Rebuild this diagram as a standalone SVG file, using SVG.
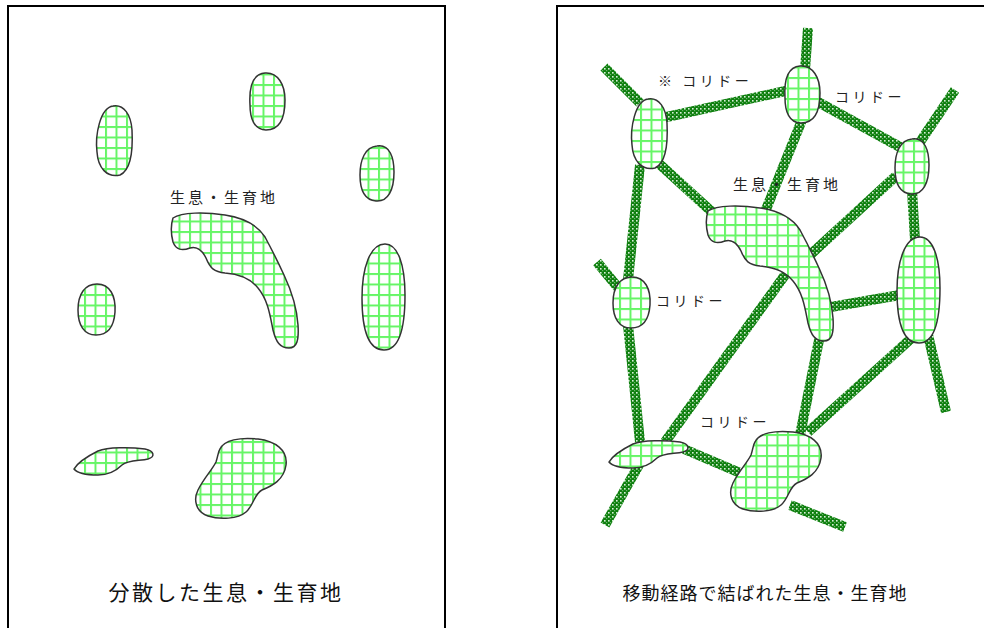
<svg xmlns="http://www.w3.org/2000/svg" xmlns:xlink="http://www.w3.org/1999/xlink" width="984" height="628" viewBox="0 0 984 628">
  <style>
    .frame { fill: none; stroke: #000; stroke-width: 2; }
    .patch { fill: url(#grid); stroke: #333; stroke-width: 1.5; }
    .corr { stroke: url(#corridor); stroke-width: 10; fill: none; }
    .lbl { font-family: "Noto Sans CJK JP", "Noto Sans", sans-serif; font-size: 14px; fill: #222; letter-spacing: 3.5px; }
    .cap { font-family: "Noto Sans CJK JP", "Noto Sans", sans-serif; fill: #111; text-anchor: middle; }
  </style>
  <defs>
    <!-- habitat fill: white with light green grid -->
    <pattern id="grid" width="10.5" height="10.5" patternUnits="userSpaceOnUse">
      <rect width="10.5" height="10.5" fill="#fff"/>
      <rect width="2" height="10.5" fill="#66f566"/>
      <rect width="10.5" height="2" fill="#66f566"/>
    </pattern>
    <!-- corridor band: dark green with light specks -->
    <pattern id="corridor" width="4" height="4" patternUnits="userSpaceOnUse">
      <rect width="4" height="4" fill="#0f7f0f"/>
      <rect x="0" y="0" width="1.6" height="1.6" fill="#d8f0d8"/>
      <rect x="2" y="2" width="1.2" height="1.2" fill="#6ab86a"/>
    </pattern>
    <path id="p1" d="M 113,106 C 124,104 131,115 132,130 C 133,150 131,170 120,175 C 107,178 98,168 97,152 C 95,135 100,108 113,106 Z"/>
    <path id="p2" d="M 265,73 C 278,72 285,85 285,100 C 285,118 280,130 266,130 C 254,130 250,118 250,105 C 249,88 252,74 265,73 Z"/>
    <path id="p3" d="M 377,146 C 390,144 394,158 394,172 C 394,190 388,202 376,201 C 364,200 360,190 360,175 C 360,160 365,147 377,146 Z"/>
    <path id="p4" d="M 173,218 C 182,212 205,212 225,215 C 245,218 258,226 265,237 C 272,250 278,262 284,275 C 292,292 297,310 298,325 C 299,340 297,348 289,348 C 280,348 276,342 273,330 C 270,315 268,300 258,288 C 250,278 240,274 225,273 C 214,272 210,268 206,258 C 202,250 196,246 190,248 C 182,251 176,250 173,242 C 171,234 171,224 173,218 Z"/>
    <path id="p5" d="M 385,244 C 398,244 405,265 405,295 C 405,325 400,350 384,350 C 368,350 362,328 362,298 C 362,268 370,244 385,244 Z"/>
    <path id="p6" d="M 97,284 C 110,284 116,296 115,312 C 114,326 108,335 96,335 C 84,335 78,325 78,310 C 78,294 85,284 97,284 Z"/>
    <path id="p7" d="M 74,469 C 78,462 88,456 98,451 C 108,447 130,447 145,449 C 155,451 155,457 148,459 C 140,461 128,460 122,465 C 116,471 108,475 98,475 C 88,475 78,474 74,469 Z"/>
    <path id="p8" d="M 220,449 C 224,440 240,437 258,439 C 275,441 288,450 286,465 C 284,480 272,486 262,490 C 254,494 254,505 246,512 C 238,519 220,520 208,516 C 196,512 193,500 198,490 C 204,478 212,470 216,462 C 218,456 218,452 220,449 Z"/>
  </defs>

  <rect width="984" height="628" fill="#fff"/>

  <!-- panel frames (open at the bottom) -->
  <path class="frame" d="M 8,630 V 6 H 445 V 630"/>
  <path class="frame" d="M 557,630 V 6 H 986"/>

  <!-- left panel: scattered habitats -->
  <g id="left-habitats">
    <g id="l-patch1"><use xlink:href="#p1" class="patch"/></g>
    <g id="l-patch2"><use xlink:href="#p2" class="patch"/></g>
    <g id="l-patch3"><use xlink:href="#p3" class="patch"/></g>
    <g id="l-patch4"><use xlink:href="#p4" class="patch"/></g>
    <g id="l-patch5"><use xlink:href="#p5" class="patch"/></g>
    <g id="l-patch6"><use xlink:href="#p6" class="patch"/></g>
    <g id="l-patch7"><use xlink:href="#p7" class="patch"/></g>
    <g id="l-patch8"><use xlink:href="#p8" class="patch"/></g>
  </g>
  <text class="lbl" x="170" y="203" style="font-size:15px;letter-spacing:3px">生息・生育地</text>
  <text class="cap" x="226" y="600" style="font-size:21px;letter-spacing:2.5px">分散した生息・生育地</text>

  <!-- right panel: corridors linking habitats -->
  <g id="corridors">
    <line class="corr" x1="604" y1="67" x2="640" y2="103"/>
    <line class="corr" x1="662" y1="118" x2="790" y2="90"/>
    <line class="corr" x1="808" y1="28" x2="805" y2="70"/>
    <line class="corr" x1="818" y1="102" x2="900" y2="147"/>
    <line class="corr" x1="918" y1="145" x2="955" y2="90"/>
    <line class="corr" x1="802" y1="120" x2="765" y2="212"/>
    <line class="corr" x1="655" y1="160" x2="712" y2="212"/>
    <line class="corr" x1="640" y1="165" x2="628" y2="280"/>
    <line class="corr" x1="597" y1="262" x2="620" y2="290"/>
    <line class="corr" x1="628" y1="325" x2="640" y2="442"/>
    <line class="corr" x1="896" y1="176" x2="810" y2="255"/>
    <line class="corr" x1="912" y1="190" x2="915" y2="240"/>
    <line class="corr" x1="825" y1="308" x2="900" y2="295"/>
    <line class="corr" x1="790" y1="268" x2="665" y2="442"/>
    <line class="corr" x1="820" y1="335" x2="800" y2="435"/>
    <line class="corr" x1="915" y1="335" x2="808" y2="432"/>
    <line class="corr" x1="928" y1="335" x2="946" y2="412"/>
    <line class="corr" x1="684" y1="449" x2="745" y2="475"/>
    <line class="corr" x1="640" y1="463" x2="605" y2="525"/>
    <line class="corr" x1="790" y1="505" x2="845" y2="527"/>
  </g>
  <g id="right-habitats" transform="translate(535,-7)">
    <g id="r-patch1"><use xlink:href="#p1" class="patch"/></g>
    <g id="r-patch2"><use xlink:href="#p2" class="patch"/></g>
    <g id="r-patch3"><use xlink:href="#p3" class="patch"/></g>
    <g id="r-patch4"><use xlink:href="#p4" class="patch"/></g>
    <g id="r-patch5"><use xlink:href="#p5" class="patch"/></g>
    <g id="r-patch6"><use xlink:href="#p6" class="patch"/></g>
    <g id="r-patch7"><use xlink:href="#p7" class="patch"/></g>
    <g id="r-patch8"><use xlink:href="#p8" class="patch"/></g>
  </g>
  <text class="lbl" x="658" y="86">※ コリドー</text>
  <text class="lbl" x="835" y="102">コリドー</text>
  <text class="lbl" x="733" y="190" style="font-size:15px;letter-spacing:3px">生息・生育地</text>
  <text class="lbl" x="656" y="306">コリドー</text>
  <text class="lbl" x="700" y="427">コリドー</text>
  <text class="cap" x="765" y="600" style="font-size:18px;letter-spacing:1px">移動経路で結ばれた生息・生育地</text>
</svg>
